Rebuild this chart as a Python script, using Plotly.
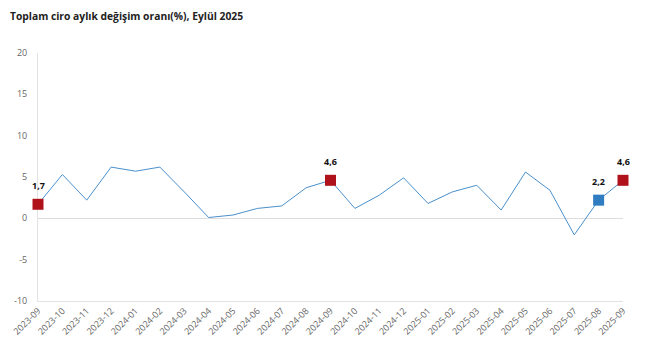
import plotly.graph_objects as go

months = ["2023-09","2023-10","2023-11","2023-12","2024-01","2024-02","2024-03","2024-04",
          "2024-05","2024-06","2024-07","2024-08","2024-09","2024-10","2024-11","2024-12",
          "2025-01","2025-02","2025-03","2025-04","2025-05","2025-06","2025-07","2025-08","2025-09"]
values = [1.7, 5.3, 2.2, 6.2, 5.7, 6.2, 3.2, 0.1, 0.4, 1.2, 1.5, 3.7, 4.6, 1.2, 2.8, 4.9,
          1.8, 3.2, 4.0, 1.0, 5.6, 3.4, -2.0, 2.2, 4.6]

red_months = ["2023-09", "2024-09", "2025-09"]
blue_months = ["2025-08"]
y_ticks = [-10, -5, 0, 5, 10, 15, 20]

def pick(ms):
    ys = [values[months.index(m)] for m in ms]
    return ys, [f"{v:.1f}".replace(".", ",") for v in ys]

fig = go.Figure()
fig.add_trace(go.Scatter(x=months, y=values, mode="lines",
                         line=dict(color="#4a90cc", width=1), hoverinfo="skip", cliponaxis=False))
ry, rt = pick(red_months)
fig.add_trace(go.Scatter(x=red_months, y=ry, mode="markers",
                         marker=dict(symbol="square", size=11, color="#b0121b"), cliponaxis=False))
by, bt = pick(blue_months)
fig.add_trace(go.Scatter(x=blue_months, y=by, mode="markers",
                         marker=dict(symbol="square", size=11, color="#2f7cc0"), cliponaxis=False))

for xs, ys, ts in [(red_months, ry, rt), (blue_months, by, bt)]:
    for xv, yv, tv in zip(xs, ys, ts):
        fig.add_annotation(x=xv, y=yv, text=f"<b>{tv}</b>", showarrow=False,
                           yshift=19, font=dict(family="Open Sans", size=9, color="#111111"))

fig.update_layout(
    width=643, height=353,
    margin=dict(l=30, r=28, t=45, b=60, autoexpand=False),
    paper_bgcolor="white", plot_bgcolor="white",
    showlegend=False,
    title=dict(text="<b>Toplam ciro aylık değişim oranı(%), Eylül 2025</b>",
               x=0.003, xanchor="left", y=0.977, yanchor="middle",
               font=dict(family="Open Sans", size=10.3, color="#222222")),
    font=dict(family="Open Sans", size=9, color="#666666"),
)
fig.update_xaxes(type="category", range=[0, len(months) - 1], tickangle=-45, automargin=False,
                 showgrid=False, showline=True, linecolor="#e3e3e3", linewidth=1,
                 layer="below traces",
                 ticks="", tickfont=dict(size=9, color="#666666"))
fig.update_yaxes(range=[-10, 20], tickvals=y_ticks, ticktext=[str(v) for v in y_ticks],
                 automargin=False, layer="below traces",
                 showgrid=False, zeroline=True, zerolinecolor="#dddddd", zerolinewidth=1,
                 showline=True, linecolor="#e3e3e3", linewidth=1, ticks="",
                 ticklabelstandoff=8, tickfont=dict(size=9, color="#666666"))

fig.write_html("out.html")
